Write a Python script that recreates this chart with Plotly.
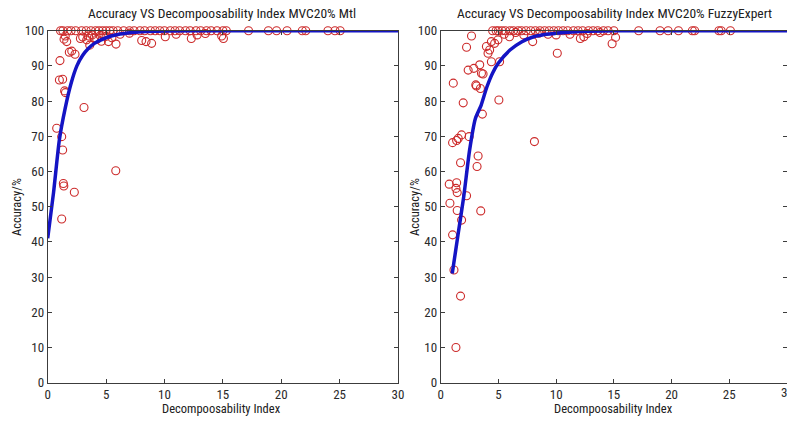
import plotly.graph_objects as go

# ---------------- data: left panel (Mtl) ----------------
mtl_x = [0.77, 1.2, 1.28, 1.34, 1.38, 2.28, 1.2, 5.83, 3.11,
         1.05, 1.0, 1.28, 1.45, 1.52, 1.85, 2.34, 2.06, 1.4, 1.63, 1.5,
         3.34, 3.6, 5.2, 5.85, 3.0, 4.0, 4.5, 4.8, 5.0, 2.8, 3.8,
         3.5, 4.2, 4.6, 5.5, 6.2, 7.0,
         8.05, 8.42, 8.9, 10.07, 12.3, 12.8, 15.05, 14.9, 11.0, 13.5,
         1.1, 1.3, 1.7, 2.0, 2.4, 2.9, 3.3, 3.7, 4.1, 4.4, 4.7, 5.0, 5.3, 5.6,
         6.0, 6.5, 7.0, 7.4, 7.9, 8.3, 8.8, 9.2, 9.6, 10.0, 10.5, 10.9, 11.3,
         11.8, 12.2, 12.7, 13.1, 13.6, 14.0, 14.5, 15.0, 15.3,
         17.2, 18.9, 19.6, 20.5, 21.8, 22.1, 24.0, 24.6, 25.05]
mtl_y = [72.3, 69.9, 66.1, 56.6, 55.9, 54.1, 46.5, 60.2, 78.2,
         91.5, 86.0, 86.2, 82.9, 82.4, 93.9, 93.3, 94.2, 97.6, 96.9, 98.5,
         97.4, 95.9, 96.9, 96.2, 98.2, 98.0, 98.6, 99.0, 98.4, 97.8, 98.8,
         98.5, 97.5, 97.0, 98.0, 99.0, 99.3,
         97.2, 96.9, 96.4, 98.3, 97.8, 98.8, 97.8, 98.5, 99.0, 99.2,
         100, 100, 100, 100, 100, 100, 100, 100, 100, 100, 100, 100, 100, 100,
         100, 100, 100, 100, 100, 100, 100, 100, 100, 100, 100, 100, 100,
         100, 100, 100, 100, 100, 100, 100, 100, 100,
         100, 100, 100, 100, 100, 100, 100, 100, 100]
mtl_fit_x = [0, 0.5, 1.0, 1.5, 2.0, 2.5, 3.0, 3.5, 4.0, 5.0, 6.0, 7.0, 8.0, 10, 15, 20, 25, 30]
mtl_fit_y = [41, 54, 69, 78, 85, 90, 93, 95, 96.4, 98.0, 98.9, 99.4, 99.7, 99.95, 100, 100, 100, 100]

# ---------------- data: right panel (FuzzyExpert) ----------------
fz_x = [1.95, 5.04, 3.61, 1.03, 1.38, 1.81, 1.52, 2.46, 8.12, 1.72, 3.24, 3.15,
        0.74, 1.38, 1.32, 1.43, 2.24, 0.8, 1.43, 1.81, 3.47, 1.03, 1.15, 1.72, 1.32,
        1.09, 2.67, 2.24, 2.38, 2.87, 3.38, 3.67, 3.04, 3.44, 3.96, 4.1, 4.39, 4.24,
        4.67, 4.96, 4.39, 5.1, 5.96, 7.97, 10.1, 3.53, 3.1, 10.0, 12.1, 12.4,
        14.85, 15.15, 5.5, 6.5, 7.2, 8.5, 9.3, 11.2, 12.7, 13.8,
        4.5, 4.8, 5.0, 5.3, 5.6, 6.0, 6.3, 6.7, 7.0, 7.4, 7.8, 8.2, 8.6, 9.0,
        9.4, 9.8, 10.2, 10.6, 11.0, 11.5, 11.9, 12.3, 12.8, 13.2, 13.6, 14.1,
        14.5, 15.0, 17.15, 19.0, 19.7, 20.6, 21.8, 22.0, 24.1, 24.3, 25.1]
fz_y = [79.5, 80.3, 76.3, 68.2, 68.8, 70.4, 69.4, 69.9, 68.5, 62.5, 64.4, 61.4,
        56.4, 56.8, 55.2, 54.0, 53.1, 51.0, 48.9, 46.2, 48.8, 42.0, 32.0, 24.6, 10.0,
        85.1, 98.5, 95.3, 88.8, 89.3, 90.3, 87.7, 84.6, 83.6, 95.5, 93.6, 96.9, 94.5,
        96.4, 97.4, 91.2, 91.2, 98.3, 96.9, 93.6, 87.9, 84.3, 98.8, 97.8, 98.3,
        96.3, 98.1, 99.0, 99.5, 98.8, 99.3, 99.0, 99.0, 99.2, 99.5,
        100, 100, 100, 100, 100, 100, 100, 100, 100, 100, 100, 100, 100, 100,
        100, 100, 100, 100, 100, 100, 100, 100, 100, 100, 100, 100,
        100, 100, 100, 100, 100, 100, 100, 100, 100, 100, 100]
fz_fit_x = [1.0, 1.5, 2.0, 2.5, 3.0, 3.5, 4.0, 4.5, 5.0, 6.0, 7.0, 8.0, 9.0, 10, 12, 15, 20, 25, 30]
fz_fit_y = [31, 42, 53, 66, 75, 78.8, 84, 88, 90.8, 94.5, 96.8, 98.2, 98.9, 99.3, 99.8, 100, 100, 100, 100]

x_ticks = [0, 5, 10, 15, 20, 25, 30]
y_ticks = [0, 10, 20, 30, 40, 50, 60, 70, 80, 90, 100]

titles = ["Accuracy VS Decompoosability Index MVC20% Mtl",
          "Accuracy VS Decompoosability Index MVC20% FuzzyExpert"]
x_title = "Decompoosability Index"
y_title = "Accuracy/%"

FONT = "Liberation Sans Narrow, Arial Narrow, Roboto Condensed, Liberation Sans, Arial, sans-serif"
W, H = 787, 423
RED = "#cc2a2a"
BLUE = "#1414c4"
AX = "#3c3c3c"

fig = go.Figure()
fig.add_trace(go.Scatter(x=mtl_x, y=mtl_y, mode="markers", xaxis="x", yaxis="y",
                         marker=dict(symbol="circle-open", size=8, color=RED, line=dict(width=1.1)),
                         cliponaxis=False, showlegend=False))
fig.add_trace(go.Scatter(x=mtl_fit_x, y=mtl_fit_y, mode="lines", xaxis="x", yaxis="y",
                         line=dict(color=BLUE, width=3.5, shape="spline", smoothing=0.6),
                         cliponaxis=False, showlegend=False))
fig.add_trace(go.Scatter(x=fz_x, y=fz_y, mode="markers", xaxis="x2", yaxis="y2",
                         marker=dict(symbol="circle-open", size=8, color=RED, line=dict(width=1.1)),
                         cliponaxis=False, showlegend=False))
fig.add_trace(go.Scatter(x=fz_fit_x, y=fz_fit_y, mode="lines", xaxis="x2", yaxis="y2",
                         line=dict(color=BLUE, width=3.5, shape="spline", smoothing=0.6),
                         cliponaxis=False, showlegend=False))

px_y_top, px_y_bot = 30.7, 382.7
ydom = [(H - px_y_bot) / H, (H - px_y_top) / H]
dom1 = [47.7 / W, 398.0 / W]
dom2 = [440.7 / W, 1.0]

def xax(dom, anchor):
    return dict(domain=dom, anchor=anchor, range=[0, 30], tickvals=x_ticks,
                automargin=False,
                showgrid=False, zeroline=False, showline=True, linecolor=AX, linewidth=1,
                mirror="ticks", ticks="inside", ticklen=4, tickcolor=AX,
                tickfont=dict(family=FONT, size=13, color="#2a2a2a"))

def yax(anchor):
    return dict(domain=ydom, anchor=anchor, range=[0, 100], tickvals=y_ticks,
                automargin=False,
                showgrid=False, zeroline=False, showline=True, linecolor=AX, linewidth=1,
                mirror="ticks", ticks="inside", ticklen=4, tickcolor=AX,
                tickfont=dict(family=FONT, size=13, color="#2a2a2a"))

annotations = []
for cx, t in [(221.5, titles[0]), (614, titles[1])]:
    annotations.append(dict(text=t, x=cx / W, y=1 - 13 / H, xref="paper", yref="paper",
                            showarrow=False, xanchor="center", yanchor="middle",
                            font=dict(family=FONT, size=13.5, color="#202020")))
for cx in [221.5, 613]:
    annotations.append(dict(text=x_title, x=cx / W, y=1 - 408 / H, xref="paper", yref="paper",
                            showarrow=False, xanchor="center", yanchor="middle",
                            font=dict(family=FONT, size=12.5, color="#202020")))
for cx in [17, 415]:
    annotations.append(dict(text=y_title, x=cx / W, y=1 - 207 / H, xref="paper", yref="paper",
                            showarrow=False, xanchor="center", yanchor="middle", textangle=-90,
                            font=dict(family=FONT, size=12.5, color="#202020")))
# last x tick label of the right panel, cut by the picture's right edge
annotations.append(dict(text=str(x_ticks[-1]), x=x_ticks[-1], y=1 - 392 / H, xref="x2", yref="paper",
                        showarrow=False, xanchor="center", yanchor="middle",
                        font=dict(family=FONT, size=13, color="#2a2a2a")))

fig.update_layout(
    width=W, height=H,
    margin=dict(l=0, r=0, t=0, b=0, autoexpand=False),
    paper_bgcolor="white", plot_bgcolor="white",
    xaxis=xax(dom1, "y"), yaxis=yax("x"),
    xaxis2=xax(dom2, "y2"), yaxis2=yax("x2"),
    annotations=annotations,
    showlegend=False,
)

fig.write_html("out.html")
